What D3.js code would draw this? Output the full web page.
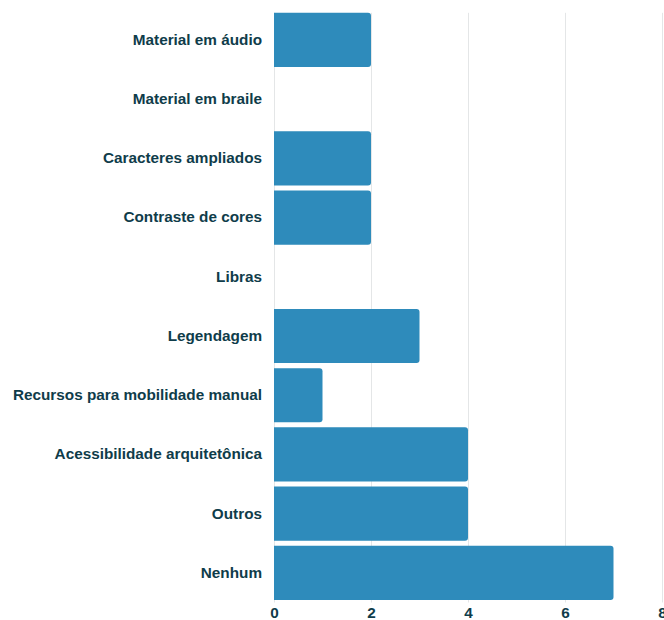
<!DOCTYPE html>
<html>
<head>
<meta charset="utf-8">
<script src="https://cdn.jsdelivr.net/npm/d3@7"></script>
<style>
  html, body { margin: 0; padding: 0; background: #ffffff; }
  svg { display: block; }
  text { font-family: "Liberation Sans", Arial, sans-serif; font-weight: bold; }
</style>
</head>
<body>
<svg id="chart" width="664" height="620"></svg>
<script>
// Recursos de acessibilidade: categorias e contagens
const categories = [
  "Material em áudio",
  "Material em braile",
  "Caracteres ampliados",
  "Contraste de cores",
  "Libras",
  "Legendagem",
  "Recursos para mobilidade manual",
  "Acessibilidade arquitetônica",
  "Outros",
  "Nenhum"
];
const counts = [2, 0, 2, 2, 0, 3, 1, 4, 4, 7];
const xTicks = [0, 2, 4, 6, 8];

const svg = d3.select("#chart");
const W = 664, H = 620;
const margin = { left: 274, right: 2, top: 10.3, bottom: 17.5 };

const x = d3.scaleLinear().domain([0, 8]).range([margin.left, W - margin.right]);
const y = d3.scaleBand()
  .domain(categories)
  .range([margin.top, H - margin.bottom])
  .paddingInner(0.085)
  .paddingOuter(0.0425);

const textColor = "#0f3c4a";
const barColor = "#2e8bbb";
const fontSize = "15.3px";

// vertical grid lines
svg.append("g")
  .selectAll("line")
  .data(xTicks)
  .join("line")
  .attr("x1", d => x(d) + 0.5)
  .attr("x2", d => x(d) + 0.5)
  .attr("y1", y(categories[0]))
  .attr("y2", H - margin.bottom)
  .attr("stroke", "#e4e6e7")
  .attr("stroke-width", 1);

// bars with rounded right end
const r = 3;
function barPath(d, i) {
  const x0 = x(0), x1 = x(d), y0 = y(categories[i]), h = y.bandwidth();
  if (x1 - x0 <= 0) return "";
  const rr = Math.min(r, (x1 - x0));
  return `M${x0},${y0}H${x1 - rr}Q${x1},${y0} ${x1},${y0 + rr}V${y0 + h - rr}Q${x1},${y0 + h} ${x1 - rr},${y0 + h}H${x0}Z`;
}
svg.append("g")
  .selectAll("path")
  .data(counts)
  .join("path")
  .attr("d", barPath)
  .attr("fill", barColor);

// category labels
const yAxis = d3.axisLeft(y).tickSize(0).tickPadding(12);
const gy = svg.append("g")
  .attr("transform", `translate(${margin.left},0)`)
  .call(yAxis);
gy.select(".domain").remove();
gy.selectAll("text")
  .attr("fill", textColor)
  .style("font-size", fontSize)
  .style("font-family", "'Liberation Sans', Arial, sans-serif")
  .style("font-weight", "bold");

// value axis labels
const xAxis = d3.axisBottom(x).tickValues(xTicks).tickSize(0).tickPadding(5).tickFormat(d3.format("d"));
const gx = svg.append("g")
  .attr("transform", `translate(0,${H - margin.bottom})`)
  .call(xAxis);
gx.select(".domain").remove();
gx.selectAll("text")
  .attr("fill", textColor)
  .style("font-size", fontSize)
  .style("font-family", "'Liberation Sans', Arial, sans-serif")
  .style("font-weight", "bold");
</script>
</body>
</html>
